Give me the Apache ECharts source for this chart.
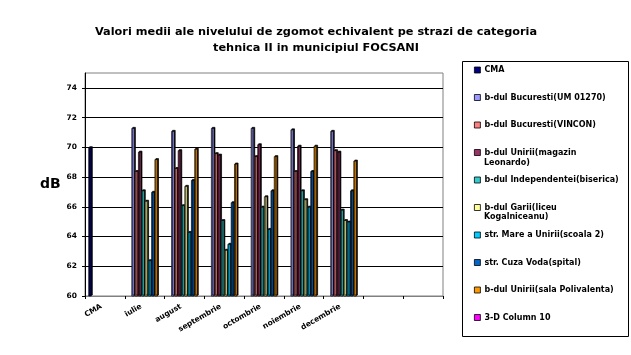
<!DOCTYPE html>
<html>
<head>
<meta charset="utf-8">
<script src="https://cdn.jsdelivr.net/npm/echarts@6/dist/echarts.min.js"></script>
<style>
  html, body { margin: 0; padding: 0; background: #ffffff; }
  #chart { width: 631px; height: 355px; }
</style>
</head>
<body>
<div id="chart"></div>
<script>
var titleLines = ['Valori medii ale nivelului de zgomot echivalent pe strazi de categoria', 'tehnica II in municipiul FOCSANI'];
var categories = ['CMA', 'iulie', 'august', 'septembrie', 'octombrie', 'noiembrie', 'decembrie', '', ''];
var yTicks = [60, 62, 64, 66, 68, 70, 72, 74];
var yAxisName = 'dB';

var seriesNames = [
  'CMA',
  'b-dul Bucuresti(UM 01270)',
  'b-dul Bucuresti(VINCON)',
  'b-dul Unirii(magazin Leonardo)',
  'b-dul Independentei(biserica)',
  'b-dul Garii(liceu Kogalniceanu)',
  'str. Mare a Unirii(scoala 2)',
  'str. Cuza Voda(spital)',
  'b-dul Unirii(sala Polivalenta)',
  '3-D Column 10'
];
var seriesColors = ['#000080', '#9999FF', '#FF8080', '#993366', '#33CCCC', '#FFFF99', '#00CCFF', '#0066CC', '#FF9900', '#FF00FF'];

var valCMA         = [70.0, null, null, null, null, null, null, null, null];
var valUM01270     = [null, 71.3, 71.1, 71.3, 71.3, 71.2, 71.1, null, null];
var valVINCON      = [null, 68.4, 68.6, 69.6, 69.4, 68.4, 69.8, null, null];
var valLeonardo    = [null, 69.7, 69.8, 69.5, 70.2, 70.1, 69.7, null, null];
var valIndep       = [null, 67.1, 66.1, 65.1, 66.0, 67.1, 65.8, null, null];
var valGarii       = [null, 66.4, 67.4, 63.1, 66.7, 66.5, 65.1, null, null];
var valMareUnirii  = [null, 62.4, 64.3, 63.5, 64.5, 66.0, 65.0, null, null];
var valCuzaVoda    = [null, 67.0, 67.8, 66.3, 67.1, 68.4, 67.1, null, null];
var valPolivalenta = [null, 69.2, 69.9, 68.9, 69.4, 70.1, 69.1, null, null];
var valColumn10    = [null, null, null, null, null, null, null, null, null];

var seriesValues = [valCMA, valUM01270, valVINCON, valLeonardo, valIndep, valGarii, valMareUnirii, valCuzaVoda, valPolivalenta, valColumn10];

var legendFirstLine = {
  'b-dul Unirii(magazin Leonardo)': 'b-dul Unirii(magazin',
  'b-dul Garii(liceu Kogalniceanu)': 'b-dul Garii(liceu'
};
var legendSecondLines = ['Leonardo)', 'Kogalniceanu)'];

var WIDE = '"DejaVu Sans", "Liberation Sans", sans-serif';

var chart = echarts.init(document.getElementById('chart'), null, { renderer: 'canvas' });

var series = seriesNames.map(function (name, i) {
  return {
    name: name,
    type: 'bar',
    data: seriesValues[i],
    barGap: '0%',
    barCategoryGap: '17%',
    itemStyle: {
      color: seriesColors[i],
      borderColor: '#000000',
      borderWidth: 0.7,
      shadowColor: '#000000',
      shadowOffsetX: 1,
      shadowOffsetY: -1,
      shadowBlur: 0
    },
    emphasis: { disabled: true },
    animation: false
  };
});

var option = {
  backgroundColor: '#ffffff',
  animation: false,
  title: {
    text: titleLines.join('\n'),
    left: 311,
    textAlign: 'center',
    top: 19,
    textStyle: {
      fontFamily: WIDE,
      fontWeight: 'bold',
      fontSize: 11.3,
      lineHeight: 16,
      color: '#000000'
    }
  },
  grid: {
    left: 85,
    right: 188,
    top: 73,
    bottom: 59,
    show: true,
    borderColor: '#808080',
    borderWidth: 1,
    backgroundColor: 'transparent'
  },
  legend: {
    orient: 'vertical',
    left: 474,
    top: 64,
    itemWidth: 6,
    itemHeight: 6,
    itemGap: 15.5,
    icon: 'rect',
    selectedMode: false,
    padding: 0,
    itemStyle: { borderColor: '#000000', borderWidth: 0.8, shadowBlur: 0, shadowOffsetX: 0, shadowOffsetY: 0 },
    textStyle: {
      fontFamily: WIDE,
      fontWeight: 'bold',
      fontSize: 8,
      lineHeight: 12,
      color: '#000000',
      padding: [0, 0, 0, -1]
    },
    formatter: function (name) { return legendFirstLine[name] || name; },
    data: seriesNames
  },
  graphic: [
    {
      type: 'rect',
      shape: { x: 462.5, y: 61.5, width: 166, height: 275 },
      style: { fill: 'none', stroke: '#000000', lineWidth: 1 },
      silent: true
    },
    {
      type: 'text',
      left: 484,
      top: 159,
      style: { text: legendSecondLines[0], fontFamily: WIDE, fontWeight: 'bold', fontSize: 8, fill: '#000000' }
    },
    {
      type: 'text',
      left: 484,
      top: 213,
      style: { text: legendSecondLines[1], fontFamily: WIDE, fontWeight: 'bold', fontSize: 8, fill: '#000000' }
    }
  ],
  xAxis: {
    type: 'category',
    data: categories,
    boundaryGap: true,
    axisLine: { show: true, lineStyle: { color: '#808080', width: 1 } },
    axisTick: { show: true, length: 3, lineStyle: { color: '#000000' } },
    axisLabel: {
      rotate: 30,
      margin: 8,
      interval: 0,
      padding: [0, 4, 0, 0],
      fontFamily: WIDE,
      fontWeight: 'bold',
      fontSize: 7.5,
      color: '#000000'
    },
    splitLine: { show: false }
  },
  yAxis: {
    type: 'value',
    min: 60,
    max: 75,
    interval: 2,
    name: yAxisName,
    nameLocation: 'middle',
    nameRotate: 0,
    nameGap: 24,
    nameTextStyle: { fontFamily: WIDE, fontWeight: 'bold', fontSize: 14, color: '#000000' },
    axisLine: { show: true, lineStyle: { color: '#000000', width: 1 } },
    axisTick: { show: true, length: 3, lineStyle: { color: '#000000' } },
    axisLabel: {
      showMaxLabel: false,
      margin: 8,
      fontFamily: WIDE,
      fontWeight: 'bold',
      fontSize: 7.5,
      color: '#000000',
      formatter: function (v) { return yTicks.indexOf(v) >= 0 ? String(v) : ''; }
    },
    splitLine: {
      show: true,
      showMaxLine: false,
      lineStyle: { color: '#000000', width: 1 }
    }
  },
  series: series
};

chart.setOption(option);
</script>
</body>
</html>
